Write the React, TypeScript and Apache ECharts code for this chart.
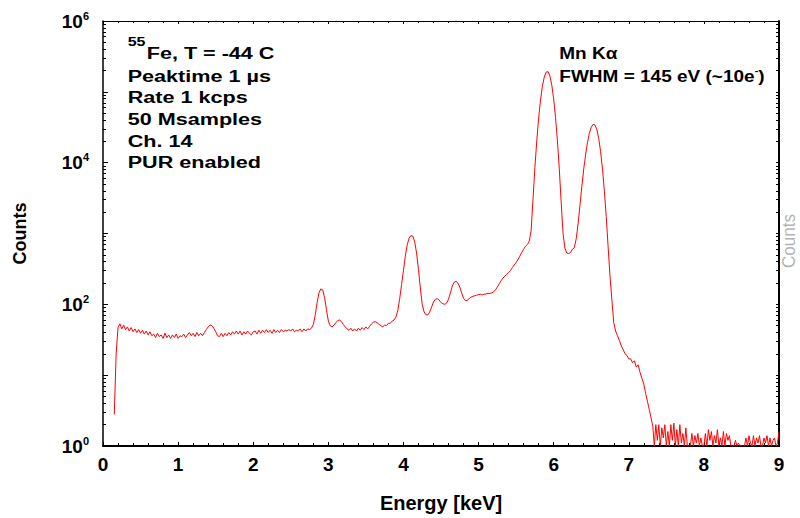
import React, { useEffect, useRef } from "react";
import * as echarts from "echarts";

// Spectrum: counts per bin, bins of 0.025 keV starting at 0.15 keV
const SPECTRUM_START_KEV = 0.15;
const SPECTRUM_STEP_KEV = 0.025;
const spectrumCounts = [
  2.8, 20, 47, 53, 45, 51, 44, 48, 42, 47,
  41, 45, 40, 44, 39, 43, 38, 42, 37, 41,
  36, 38, 34, 39, 35, 37, 33, 39, 34, 37,
  33, 37, 34, 38, 33, 36, 35, 38, 34, 37,
  40, 36, 39, 35, 40, 36, 39, 36, 40, 44,
  48, 51, 50, 46, 41, 36, 35, 39, 35, 39,
  36, 40, 37, 41, 38, 42, 38, 42, 37, 41,
  38, 42, 39, 37, 41, 42, 38, 43, 39, 43,
  40, 44, 40, 43, 39, 44, 40, 43, 40, 44,
  41, 43, 42, 44, 42, 45, 41, 43, 42, 45,
  41, 45, 42, 45, 44, 46, 52, 70, 105, 145,
  165, 160, 125, 85, 58, 50, 48, 51, 55, 59,
  60, 57, 52, 48, 45, 43, 46, 42, 45, 42,
  46, 43, 47, 44, 48, 45, 49, 53, 56, 57,
  55, 52, 50, 48, 51, 50, 54, 54, 58, 60,
  66, 82, 120, 190, 300, 480, 690, 860, 935, 920,
  760, 530, 310, 170, 100, 78, 71, 71, 78, 92,
  108, 118, 120, 115, 106, 102, 100, 104, 118, 145,
  180, 205, 212, 200, 175, 145, 122, 113, 114, 120,
  126, 130, 132, 135, 137, 138, 136, 139, 140, 143,
  142, 145, 150, 160, 175, 195, 215, 235, 250, 265,
  280, 300, 330, 360, 390, 430, 480, 540, 600, 660,
  700, 780, 1100, 3050, 8500, 20400, 42600, 76700, 120000, 162000,
  190000, 192700, 167500, 124700, 79400, 43400, 20200, 8100, 2770, 1000,
  620, 530, 520, 540, 600, 630, 840, 1360, 2500, 4600,
  8100, 12800, 19200, 25900, 31600, 34700, 34100, 29300, 21900, 14300,
  8100, 4010, 1730, 650, 250, 115, 55, 42, 36, 31,
  26, 23, 20, 19, 17, 17, 15, 16, 13, 14,
  11, 9, 7.5, 5.5, 4.2, 3.2, 2.4,
];

// High-energy tail: bins of 0.02 keV starting at 7.32 keV
const TAIL_START_KEV = 7.32;
const TAIL_STEP_KEV = 0.02;
const tailCounts = [
  1.9, 1, 2, 1.2, 2, 1, 1.8, 1.3, 2, 1,
  1.6, 1, 2, 1.2, 2.1, 1, 1.7, 1, 2, 1.1,
  1.5, 1, 1.8, 1, 1, 1, 1.5, 1, 1.4, 1.1,
  1.5, 1, 1.3, 1, 1, 1.5, 1, 1.7, 1.2, 1.6,
  1, 1.4, 1.1, 1.7, 1, 1.3, 1, 1.6, 1, 1.5,
  1.2, 1.4, 1, 1, 1, 1.2, 1, 1.1, 1, 1,
  1, 1, 1.3, 1, 1.4, 1.1, 1, 1.4, 1, 1.3,
  1.1, 1.4, 1, 1, 1.3, 1.1, 1.4, 1, 1.3, 1,
  1.2, 1.3, 1, 1.1, 1.6,
];

const energyMin = 0;
const energyMax = 9;
const countDecades = [1, 10, 100, 1000, 10000, 100000, 1000000];
const countLabelValues = [1, 100, 10000, 1000000];
const minorMultipliers = [2, 3, 4, 5, 6, 7, 8, 9];

const annotationLeft = [
  "Peaktime 1 \u00b5s",
  "Rate 1 kcps",
  "50 Msamples",
  "Ch. 14",
  "PUR enabled",
];

const FONT = "'Liberation Sans', Arial, Helvetica, sans-serif";

export default function App() {
  const ref = useRef<HTMLDivElement>(null);

  useEffect(() => {
    if (!ref.current) return;
    const chart = echarts.init(ref.current, null, { renderer: "svg" });

    const data = [
      ...spectrumCounts.map((c, i) => [
        +(SPECTRUM_START_KEV + i * SPECTRUM_STEP_KEV).toFixed(3),
        c,
      ]),
      ...tailCounts.map((c, i) => [
        +(TAIL_START_KEV + i * TAIL_STEP_KEV).toFixed(3),
        c,
      ]),
    ];

    const minorTicks: number[] = [];
    countDecades.slice(0, -1).forEach((d) =>
      minorMultipliers.forEach((m) => minorTicks.push(m * d))
    );
    const allTicks = [...countDecades, ...minorTicks];

    const bold = { fontFamily: FONT, fontWeight: "bold" as const, color: "#000" };

    const leftLineYs = [76, 97.7, 119, 141, 162.5];

    chart.setOption({
      animation: false,
      backgroundColor: "#ffffff",
      grid: { left: 103, right: 21, top: 21, bottom: 69, containLabel: false },
      xAxis: [
        {
          type: "value",
          position: "bottom",
          min: energyMin,
          max: energyMax,
          interval: 1,
          name: "Energy [keV]",
          nameLocation: "middle",
          nameGap: 47,
          nameTextStyle: { ...bold, fontSize: 20 },
          axisLine: { onZero: false, lineStyle: { color: "#000", width: 2 } },
          axisTick: { inside: true, length: 4, lineStyle: { color: "#000" } },
          minorTick: { show: true, splitNumber: 5, length: 3, lineStyle: { color: "#000" } },
          axisLabel: { ...bold, fontSize: 19, margin: 9 },
          splitLine: { show: false },
        },
        {
          type: "value",
          position: "top",
          min: energyMin,
          max: energyMax,
          interval: 1,
          axisLine: { onZero: false, lineStyle: { color: "#000", width: 1 } },
          axisTick: { inside: true, length: 3, lineStyle: { color: "#000" } },
          minorTick: { show: true, splitNumber: 5, length: 2, lineStyle: { color: "#000" } },
          axisLabel: { show: false },
          splitLine: { show: false },
        },
      ],
      yAxis: [
        {
          type: "log",
          logBase: 10,
          min: 1,
          max: 1000000,
          position: "left",
          name: "Counts",
          nameLocation: "middle",
          nameGap: 74,
          nameRotate: 90,
          nameTextStyle: { ...bold, fontSize: 18 },
          axisLine: { onZero: false, lineStyle: { color: "#000", width: 1.5 } },
          axisTick: {
            inside: true,
            length: 5,
            customValues: countDecades,
            lineStyle: { color: "#000" },
          },
          axisLabel: {
            customValues: countLabelValues,
            margin: 14,
            formatter: (v: number) => {
              const e = Math.round(Math.log10(v));
              return `{b|10}{s|${e}}`;
            },
            rich: {
              b: { ...bold, fontSize: 19, lineHeight: 22 },
              s: { ...bold, fontSize: 11, lineHeight: 8, verticalAlign: "top" },
            },
          },
          splitLine: { show: false },
        },
        {
          type: "log",
          logBase: 10,
          min: 1,
          max: 1000000,
          position: "left",
          axisLine: { show: false },
          axisTick: {
            inside: true,
            length: 3,
            customValues: minorTicks,
            lineStyle: { color: "#000" },
          },
          axisLabel: { show: false },
          splitLine: { show: false },
        },
        {
          type: "log",
          logBase: 10,
          min: 1,
          max: 1000000,
          position: "right",
          axisLine: { onZero: false, lineStyle: { color: "#000", width: 2 } },
          axisTick: {
            inside: true,
            length: 3,
            customValues: allTicks,
            lineStyle: { color: "#000" },
          },
          axisLabel: { show: false },
          splitLine: { show: false },
        },
      ],
      series: [
        {
          type: "line",
          name: "Spectrum",
          xAxisIndex: 0,
          yAxisIndex: 0,
          data,
          showSymbol: false,
          symbol: "none",
          clip: true,
          silent: true,
          lineStyle: { color: "#ff0000", width: 1 },
        },
      ],
      graphic: [
        {
          type: "text",
          x: 127.7,
          y: 42,
          scaleY: 0.8,
          style: {
            text: "55",
            font: `bold 16px ${FONT}`,
            fill: "#000",
            verticalAlign: "middle",
          },
        },
        {
          type: "text",
          x: 146.7,
          y: 53,
          scaleY: 0.76,
          style: {
            text: "Fe, T = -44 C",
            font: `bold 21.6px ${FONT}`,
            fill: "#000",
            verticalAlign: "middle",
          },
        },
        ...annotationLeft.map((t, i) => ({
          type: "text",
          x: 127.7,
          y: leftLineYs[i],
          scaleY: 0.76,
          style: {
            text: t,
            font: `bold 21.6px ${FONT}`,
            fill: "#000",
            verticalAlign: "middle",
          },
        })),
        {
          type: "text",
          x: 559.3,
          y: 53.3,
          scaleY: 0.85,
          style: {
            text: "Mn K\u03b1",
            font: `bold 19px ${FONT}`,
            fill: "#000",
            verticalAlign: "middle",
          },
        },
        {
          type: "text",
          x: 559.3,
          y: 76.7,
          scaleY: 0.85,
          style: {
            text: "{a|FWHM = 145 eV (~10e}{s|-}{a|)}",
            verticalAlign: "middle",
            rich: {
              a: { font: `bold 19px ${FONT}`, fill: "#000", lineHeight: 24 },
              s: {
                font: `bold 11px ${FONT}`,
                fill: "#000",
                lineHeight: 10,
                verticalAlign: "top",
              },
            },
          },
        },
        {
          type: "text",
          x: 789,
          y: 241,
          rotation: Math.PI / 2,
          scaleX: 0.95,
          style: {
            text: "Counts",
            font: `18px ${FONT}`,
            fill: "#b4b4b4",
            align: "center",
            verticalAlign: "middle",
          },
        },
      ],
    });

    return () => chart.dispose();
  }, []);

  return (
    <div
      ref={ref}
      style={{ position: "fixed", left: 0, top: 0, width: 800, height: 518 }}
    />
  );
}
